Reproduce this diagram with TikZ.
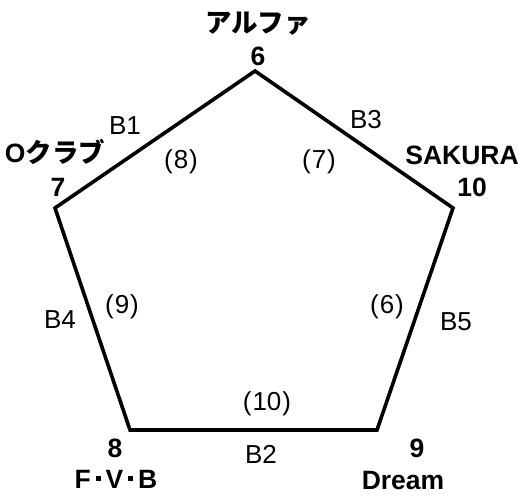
\documentclass[tikz,border=0pt]{standalone}
\usepackage{fontspec}
\setmainfont{Liberation Sans}
\newfontfamily\jp{Noto Sans CJK JP}
\newcommand{\pnum}[1]{(\kern1pt#1\kern1pt)}
\newcommand{\sqdot}{\kern5pt\rule[0.27em]{0.18em}{0.18em}\kern5pt}

\begin{document}
\begin{tikzpicture}[x=1pt,y=-1pt,
    club/.style={font=\fontsize{26.5}{30}\selectfont\bfseries, inner sep=0pt},
    side/.style={font=\fontsize{26}{30}\selectfont, inner sep=0pt}]
        \useasboundingbox (0,0) rectangle (521,495);
        % corners
        \coordinate (alpha) at (255,71);
        \coordinate (oclub) at (55,208);
        \coordinate (fvb) at (130,430);
        \coordinate (dream) at (377,430);
        \coordinate (sakura) at (453,208);
        \draw[line width=3.6pt] (alpha)--(sakura)--(dream)--(fvb)--(oclub)--cycle;
        % club names
        \node[club] (alphaname) at (258,24) {\jp\bfseries アルファ};
        \node[club] (alphanum) at (258,56) {6};
        \node[club] (oclubname) at (55,152) {O{\jp\bfseries クラブ}};
        \node[club] (oclubnum) at (58,187) {7};
        \node[club] (sakuraname) at (462,155) {SAKURA};
        \node[club] (sakuranum) at (472,187) {10};
        \node[club] (fvbnum) at (115,448) {8};
        \node[club] (fvbname) at (116,479) {F\sqdot V\sqdot B};
        \node[club] (dreamnum) at (417,448) {9};
        \node[club] (dreamname) at (403,481) {Dream};
        % sides
        \node[side] (b1) at (125,126) {B1};
        \node[side] (b3) at (366,120) {B3};
        \node[side] (b4) at (60,320) {B4};
        \node[side] (b5) at (456,322) {B5};
        \node[side] (b2) at (261,454) {B2};
        \node[side] (s8) at (181,162) {\pnum{8}};
        \node[side] (s7) at (319,162) {\pnum{7}};
        \node[side] (s9) at (122,307) {\pnum{9}};
        \node[side] (s6) at (387,307) {\pnum{6}};
        \node[side] (s10) at (267,404) {\pnum{10}};
\end{tikzpicture}
\end{document}
